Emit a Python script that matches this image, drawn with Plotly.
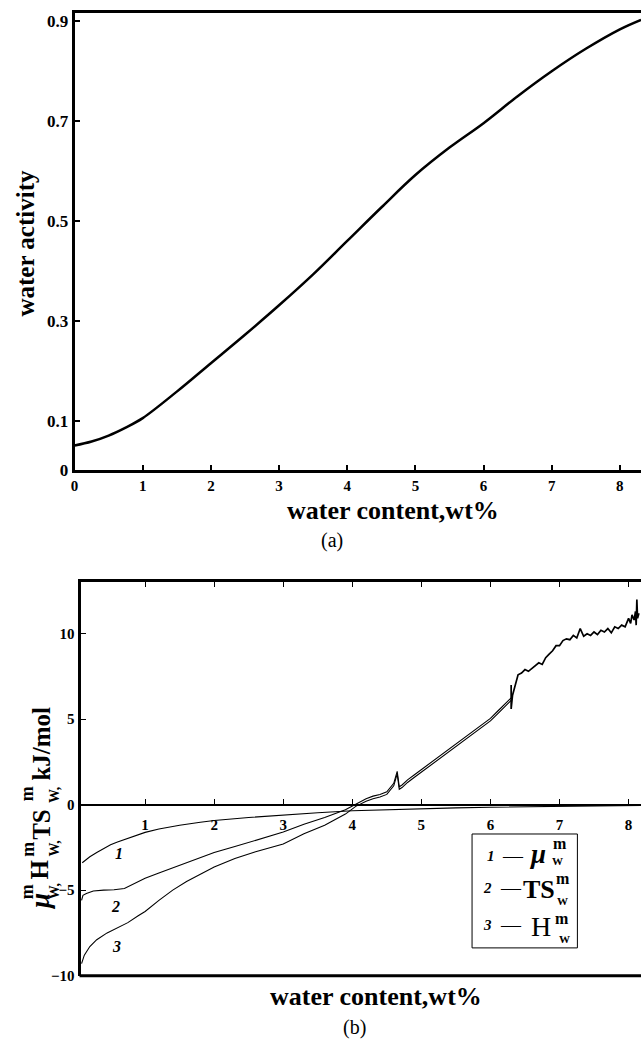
import plotly.graph_objects as go

# ---------------- data ----------------
# (a) water activity vs water content
wc_a = [0.0, 0.25, 0.5, 0.75, 1.0, 1.5, 2.0, 2.5, 3.0, 3.5, 4.0, 4.5, 5.0, 5.5, 6.0, 6.5, 7.0, 7.5, 8.0, 8.31]
aw_a = [0.050, 0.058, 0.070, 0.086, 0.105, 0.158, 0.215, 0.272, 0.331, 0.393, 0.460, 0.527, 0.592, 0.647, 0.696, 0.750, 0.800, 0.845, 0.884, 0.903]

# (b) curve 1: chemical potential mu_w
mu_x = [0.09, 0.2, 0.3, 0.4, 0.5, 0.6, 0.7, 0.8, 1.0, 1.2, 1.5, 1.8, 2.0, 2.5, 3.0, 3.5, 4.0, 4.5, 5.0, 5.5, 6.0, 6.5, 7.0, 7.5, 8.0, 8.18]
mu_y = [-3.4, -3.05, -2.8, -2.55, -2.35, -2.18, -2.03, -1.9, -1.62, -1.42, -1.2, -1.03, -0.93, -0.75, -0.6, -0.47, -0.36, -0.29, -0.23, -0.19, -0.15, -0.12, -0.09, -0.07, -0.05, -0.04]

# curve 2: T*S_w
ts_x = [0.08, 0.1, 0.15, 0.25, 0.4, 0.55, 0.7, 0.85, 1.0, 1.2, 1.4, 1.6, 1.8, 2.0, 2.3, 2.6, 3.0, 3.3, 3.6, 3.9, 4.05,
        4.2, 4.3, 4.4, 4.5, 4.6, 4.65, 4.68, 4.72, 4.8, 4.9, 5.0, 5.1, 5.2, 5.3, 5.4, 5.5, 5.6, 5.7, 5.8, 5.9, 6.0, 6.1, 6.2, 6.3]
ts_y = [-5.6, -5.3, -5.2, -5.05, -5.0, -4.98, -4.9, -4.6, -4.3, -4.0, -3.7, -3.4, -3.1, -2.8, -2.45, -2.1, -1.6, -1.15, -0.75, -0.3, 0.05,
        0.35, 0.5, 0.6, 0.75, 1.25, 1.95, 1.05, 1.15, 1.45, 1.75, 2.05, 2.35, 2.65, 2.95, 3.25, 3.55, 3.85, 4.15, 4.45, 4.75, 5.05, 5.45, 5.85, 6.25]

# curve 3: H_w
h_x = [0.08, 0.12, 0.2, 0.3, 0.45, 0.6, 0.75, 0.9, 1.0, 1.2, 1.4, 1.6, 1.8, 2.0, 2.3, 2.6, 3.0, 3.3, 3.6, 3.9, 4.05,
       4.2, 4.3, 4.4, 4.5, 4.6, 4.65, 4.68, 4.72, 4.8, 4.9, 5.0, 5.1, 5.2, 5.3, 5.4, 5.5, 5.6, 5.7, 5.8, 5.9, 6.0, 6.1, 6.2, 6.3]
h_y = [-9.3, -8.8, -8.3, -7.9, -7.5, -7.2, -6.9, -6.5, -6.25, -5.6, -5.0, -4.5, -4.05, -3.65, -3.15, -2.75, -2.3, -1.7, -1.2, -0.55, -0.1,
       0.2, 0.35, 0.45, 0.6, 1.1, 1.8, 0.9, 1.0, 1.3, 1.6, 1.9, 2.2, 2.5, 2.8, 3.1, 3.4, 3.7, 4.0, 4.3, 4.6, 4.9, 5.3, 5.7, 6.1]

# shared noisy upper part of curves 2 and 3
up_x = [6.3, 6.3, 6.32, 6.35, 6.38, 6.4, 6.45, 6.5, 6.55, 6.6, 6.65, 6.7, 6.75, 6.8, 6.85, 6.9, 6.95, 7.0, 7.05, 7.1,
        7.15, 7.2, 7.25, 7.3, 7.35, 7.4, 7.45, 7.5, 7.55, 7.6, 7.65, 7.7, 7.75, 7.8, 7.85, 7.9, 7.95, 8.0, 8.03, 8.05,
        8.08, 8.1, 8.11, 8.12, 8.13, 8.15]
up_y = [7.0, 5.6, 6.4, 6.9, 7.4, 7.6, 7.7, 7.9, 7.8, 7.95, 8.1, 8.3, 8.2, 8.6, 8.8, 9.0, 9.3, 9.3, 9.6, 9.7,
        9.65, 9.9, 9.75, 10.3, 9.85, 10.0, 9.9, 10.1, 9.95, 10.2, 10.1, 10.3, 10.05, 10.4, 10.3, 10.5, 10.4, 10.9, 10.6, 11.1,
        10.8, 11.3, 10.5, 12.0, 10.9, 11.2]

# tick labels
a_xticks = [0, 1, 2, 3, 4, 5, 6, 7, 8]
a_yticks = [0, 0.1, 0.3, 0.5, 0.7, 0.9]
a_yticktext = ["0", "0.1", "0.3", "0.5", "0.7", "0.9"]
b_xticks = [1, 2, 3, 4, 5, 6, 7, 8]
b_yticks = [-10, -5, 0, 5, 10]

# ---------------- layout helpers ----------------
W, H = 641, 1052
def px(x):
    return x / W
def py(y):
    return 1 - y / H

SERIF = "Liberation Serif"
BLACK = "#000000"

fig = go.Figure()

fig.add_trace(go.Scatter(x=wc_a, y=aw_a, mode="lines", line=dict(color=BLACK, width=2.5, shape="spline"),
                         xaxis="x", yaxis="y", showlegend=False))

for xs, ys in [(mu_x, mu_y), (ts_x, ts_y), (h_x, h_y)]:
    fig.add_trace(go.Scatter(x=xs, y=ys, mode="lines", line=dict(color=BLACK, width=1.1),
                             xaxis="x2", yaxis="y2", showlegend=False))
fig.add_trace(go.Scatter(x=up_x, y=up_y, mode="lines", line=dict(color=BLACK, width=1.7),
                         xaxis="x2", yaxis="y2", showlegend=False))
# invisible trace for top frame axis
fig.add_trace(go.Scatter(x=[1], y=[0], mode="markers", marker=dict(opacity=0),
                         xaxis="x3", yaxis="y2", showlegend=False, hoverinfo="skip"))

b_yrange = [-10, 13]
b_dom = [py(985), py(588)]
zero_pos = b_dom[0] + (b_dom[1] - b_dom[0]) * (0 - b_yrange[0]) / (b_yrange[1] - b_yrange[0])
b_xrange = [0.065, 8.18]

fig.update_layout(
    width=W, height=H, margin=dict(l=0, r=0, t=0, b=0),
    paper_bgcolor="white", plot_bgcolor="white",
    xaxis=dict(domain=[px(71), 1], range=[0, 8.31], anchor="y",
               showline=True, linecolor=BLACK, linewidth=3, mirror=True,
               ticks="inside", ticklen=5, tickwidth=1.5, tickcolor=BLACK,
               tickvals=a_xticks, tickfont=dict(family=SERIF, size=15, color=BLACK, weight="bold"),
               ticklabelstandoff=0, showgrid=False, zeroline=False),
    yaxis=dict(domain=[py(475), py(13)], range=[0, 0.917], anchor="x",
               showline=True, linecolor=BLACK, linewidth=3,
               ticks="inside", ticklen=5, tickwidth=1.5, tickcolor=BLACK,
               tickvals=a_yticks, ticktext=a_yticktext,
               tickfont=dict(family=SERIF, size=17, color=BLACK, weight="bold"),
               showgrid=False, zeroline=False),
    xaxis2=dict(domain=[px(77), 1], range=b_xrange, anchor="free", position=zero_pos,
                showline=True, linecolor=BLACK, linewidth=2,
                ticks="inside", ticklen=5, tickwidth=1, tickcolor=BLACK,
                tickvals=b_xticks, tickfont=dict(family=SERIF, size=15, color=BLACK, weight="bold"),
                ticklabelstandoff=6, showgrid=False, zeroline=False),
    xaxis3=dict(domain=[px(77), 1], range=b_xrange, anchor="y2", overlaying="x2", side="top",
                showline=True, linecolor=BLACK, linewidth=3,
                ticks="inside", ticklen=5, tickwidth=1, tickcolor=BLACK,
                tickvals=b_xticks, showticklabels=False, showgrid=False, zeroline=False),
    yaxis2=dict(domain=b_dom, range=b_yrange, anchor="x2",
                showline=True, linecolor=BLACK, linewidth=3,
                ticks="inside", ticklen=5, tickwidth=1, tickcolor=BLACK,
                tickvals=b_yticks, tickfont=dict(family=SERIF, size=15, color=BLACK, weight="bold"),
                showgrid=False, zeroline=False),
)

# bottom frame of (b)
fig.add_shape(type="line", xref="paper", yref="paper", x0=px(76), x1=1, y0=b_dom[0], y1=b_dom[0],
              line=dict(color=BLACK, width=3))
# legend box of (b)
fig.add_shape(type="rect", xref="paper", yref="paper", x0=px(471), x1=px(577), y0=py(957), y1=py(842),
              line=dict(color=BLACK, width=1), fillcolor="white")

ann = []
def A(text, x, y, size, bold=True, italic=False, angle=0, xanchor="center"):
    t = text
    if italic:
        t = "<i>" + t + "</i>"
    ann.append(dict(text=t, x=px(x), y=py(y), xref="paper", yref="paper", showarrow=False,
                    textangle=angle, xanchor=xanchor, yanchor="middle",
                    font=dict(family=SERIF, size=size, color=BLACK, weight="bold" if bold else "normal")))

# titles (a)
A("water activity", 22, 245, 25, angle=-90)
A("water content,wt%", 391, 515, 26)
A("(a)", 330, 546, 20, bold=False)

# y title (b), built from pieces so that m and W stack
A("μ", 37, 910, 27, italic=True, angle=-90)
A("m", 24, 900, 18, angle=-90)
A("W,", 51, 900, 14, angle=-90)
A("H", 36, 878, 25, angle=-90)
A("m", 24, 857, 18, angle=-90)
A("W,", 51, 857, 14, angle=-90)
A("TS", 37, 832, 25, angle=-90)
A("m", 24, 801, 18, angle=-90)
A("W,", 51, 803, 14, angle=-90)
A("kJ/mol", 38, 751, 25, angle=-90)

A("water content,wt%", 374, 1006, 26)
A("(b)", 353, 1037, 20, bold=False)

# curve labels
A("1", 116, 862, 16, italic=True)
A("2", 112, 915, 16, italic=True)
A("3", 113, 956, 16, italic=True)

# legend contents
A("1", 490, 864, 15, italic=True)
A("—", 512, 864, 20, bold=False)
A("μ", 537, 862, 27, italic=True)
A("m", 559, 852, 16)
A("W", 557, 869, 11)
A("2", 487, 897, 15, italic=True)
A("—", 510, 897, 20, bold=False)
A("TS", 538, 898, 26)
A("m", 563, 887, 16)
A("W", 562, 910, 11)
A("3", 487, 934, 15, italic=True)
A("—", 510, 934, 20, bold=False)
A("H", 540, 935, 28, bold=False)
A("m", 562, 927, 16)
A("W", 564, 948, 11)

fig.update_layout(annotations=ann)
fig.write_html("out.html")
